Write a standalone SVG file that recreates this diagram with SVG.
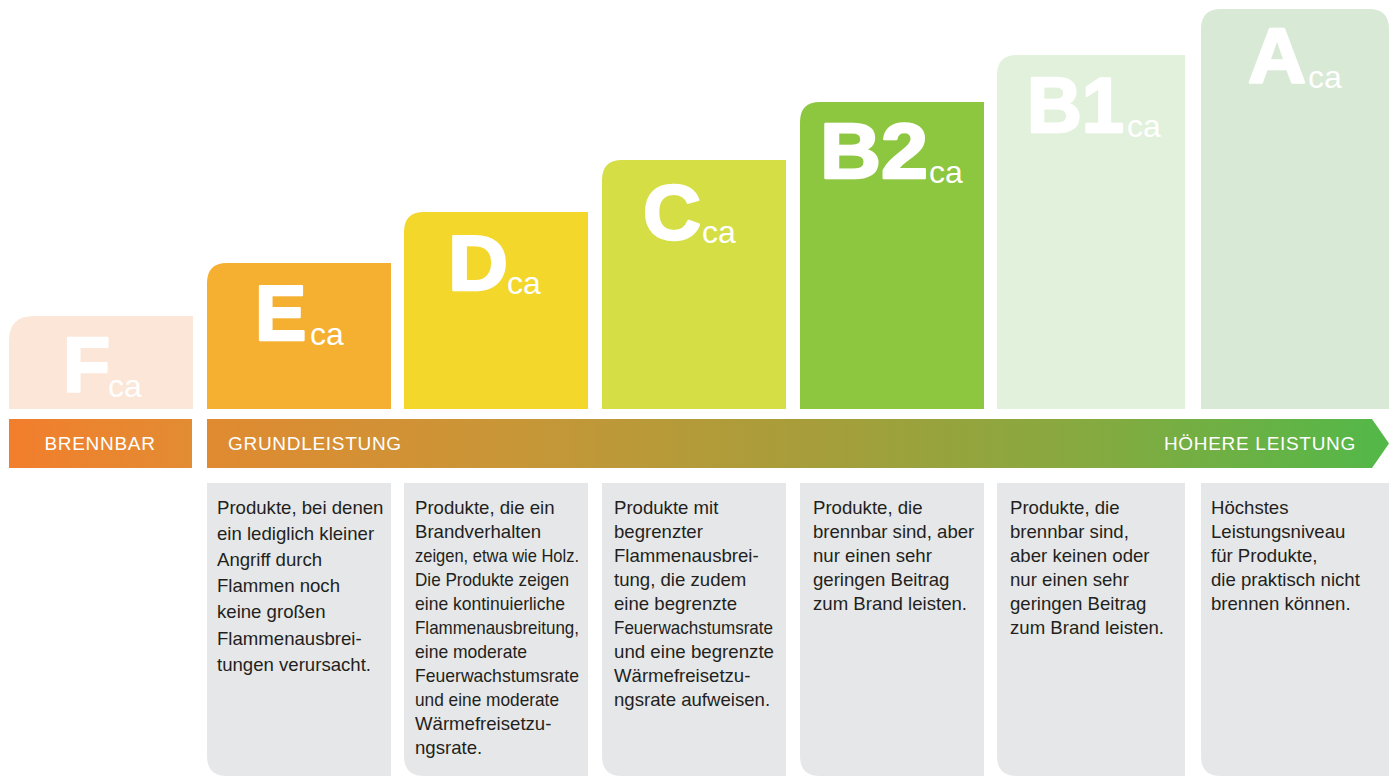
<svg xmlns="http://www.w3.org/2000/svg" width="1394" height="776" viewBox="0 0 1394 776">
<defs>
<linearGradient id="gBrenn" x1="9" y1="0" x2="192" y2="0" gradientUnits="userSpaceOnUse">
<stop offset="0" stop-color="#f27e2c"/><stop offset="1" stop-color="#e28c33"/>
</linearGradient>
<linearGradient id="gArrow" x1="207" y1="0" x2="1389" y2="0" gradientUnits="userSpaceOnUse">
<stop offset="0" stop-color="#e08a31"/>
<stop offset="0.25" stop-color="#c99637"/>
<stop offset="0.5" stop-color="#a89d3a"/>
<stop offset="0.75" stop-color="#85aa40"/>
<stop offset="1" stop-color="#52b849"/>
</linearGradient>
<style>
.big{font-family:"Liberation Sans",Arial,sans-serif;font-weight:bold;font-size:77px;fill:#fff;stroke:#fff;stroke-width:2.5;stroke-linejoin:round}
.sub{font-family:"Liberation Sans",Arial,sans-serif;font-size:32px;fill:#fff}
.lab{font-family:"Liberation Sans",Arial,sans-serif;font-size:19px;fill:#fff;letter-spacing:0.7px}
.desc{font-family:"Liberation Sans",Arial,sans-serif;font-size:18.6px;fill:#231f20}
.box{fill:#e6e7e8}
</style>
</defs>
<rect width="1394" height="776" fill="#fff"/>

<g id="bar-F">
<path d="M9,409 V341 Q9,316 34,316 H193 V409 Z" fill="#fce6d7"/>
<text class="big" x="63" y="392">F</text><text class="sub" x="108" y="397">ca</text>
</g>
<g id="bar-E">
<path d="M207,409 V283 Q207,263 227,263 H391 V409 Z" fill="#f5af31"/>
<text class="big" x="255" y="340">E</text><text class="sub" x="310" y="345">ca</text>
</g>
<g id="bar-D">
<path d="M404,409 V232 Q404,212 424,212 H588 V409 Z" fill="#f3d72b"/>
<text class="big" x="448" y="290" textLength="60" lengthAdjust="spacingAndGlyphs">D</text><text class="sub" x="507" y="294">ca</text>
</g>
<g id="bar-C">
<path d="M602,409 V180 Q602,160 622,160 H786 V409 Z" fill="#d5df45"/>
<text class="big" x="643" y="239" textLength="58" lengthAdjust="spacingAndGlyphs">C</text><text class="sub" x="702" y="243">ca</text>
</g>
<g id="bar-B2">
<path d="M800,409 V122 Q800,102 820,102 H984 V409 Z" fill="#8dc63f"/>
<text class="big" x="820" y="178" textLength="108" lengthAdjust="spacingAndGlyphs">B2</text><text class="sub" x="929" y="183">ca</text>
</g>
<g id="bar-B1">
<path d="M997,409 V75 Q997,55 1017,55 H1185 V409 Z" fill="#e2f1dc"/>
<text class="big" x="1027" y="132" textLength="97" lengthAdjust="spacingAndGlyphs">B1</text><text class="sub" x="1127" y="137">ca</text>
</g>
<g id="bar-A">
<path d="M1201,409 V29 Q1201,9 1221,9 H1369 Q1389,9 1389,29 V409 Z" fill="#d8e9d6"/>
<text class="big" x="1248" y="83" textLength="58" lengthAdjust="spacingAndGlyphs">A</text><text class="sub" x="1308" y="88">ca</text>
</g>

<g id="scale">
<rect x="9" y="419" width="183" height="49" fill="url(#gBrenn)"/>
<text class="lab" x="100" y="450" text-anchor="middle">BRENNBAR</text>
<polygon points="207,419 1372,419 1389,443.5 1372,468 207,468" fill="url(#gArrow)"/>
<text class="lab" x="228" y="450">GRUNDLEISTUNG</text>
<text class="lab" x="1356" y="450" text-anchor="end">HÖHERE LEISTUNG</text>
</g>

<g id="desc-E">
<path class="box" d="M207,483 H391 V776 H227 Q207,776 207,756 Z"/>
<text class="desc" x="217" y="514">Produkte, bei denen</text>
<text class="desc" x="217" y="540">ein lediglich kleiner</text>
<text class="desc" x="217" y="566">Angriff durch</text>
<text class="desc" x="217" y="592">Flammen noch</text>
<text class="desc" x="217" y="618">keine großen</text>
<text class="desc" x="217" y="645">Flammenausbrei-</text>
<text class="desc" x="217" y="671">tungen verursacht.</text>
</g>
<g id="desc-D">
<path class="box" d="M404,483 H588 V776 H424 Q404,776 404,756 Z"/>
<text class="desc" x="415" y="514">Produkte, die ein</text>
<text class="desc" x="415" y="538">Brandverhalten</text>
<text class="desc" x="415" y="562" textLength="164" lengthAdjust="spacingAndGlyphs">zeigen, etwa wie Holz.</text>
<text class="desc" x="415" y="586" textLength="154" lengthAdjust="spacingAndGlyphs">Die Produkte zeigen</text>
<text class="desc" x="415" y="610" textLength="150" lengthAdjust="spacingAndGlyphs">eine kontinuierliche</text>
<text class="desc" x="415" y="634" textLength="164" lengthAdjust="spacingAndGlyphs">Flammenausbreitung,</text>
<text class="desc" x="415" y="658" textLength="112" lengthAdjust="spacingAndGlyphs">eine moderate</text>
<text class="desc" x="415" y="682" textLength="164" lengthAdjust="spacingAndGlyphs">Feuerwachstumsrate</text>
<text class="desc" x="415" y="706" textLength="144" lengthAdjust="spacingAndGlyphs">und eine moderate</text>
<text class="desc" x="415" y="730">Wärmefreisetzu-</text>
<text class="desc" x="415" y="754">ngsrate.</text>
</g>
<g id="desc-C">
<path class="box" d="M602,483 H786 V776 H622 Q602,776 602,756 Z"/>
<text class="desc" x="614" y="514">Produkte mit</text>
<text class="desc" x="614" y="538">begrenzter</text>
<text class="desc" x="614" y="562">Flammenausbrei-</text>
<text class="desc" x="614" y="586">tung, die zudem</text>
<text class="desc" x="614" y="610">eine begrenzte</text>
<text class="desc" x="614" y="634" textLength="159" lengthAdjust="spacingAndGlyphs">Feuerwachstumsrate</text>
<text class="desc" x="614" y="658" textLength="160" lengthAdjust="spacingAndGlyphs">und eine begrenzte</text>
<text class="desc" x="614" y="682">Wärmefreisetzu-</text>
<text class="desc" x="614" y="706">ngsrate aufweisen.</text>
</g>
<g id="desc-B2">
<path class="box" d="M800,483 H984 V776 H820 Q800,776 800,756 Z"/>
<text class="desc" x="813" y="514">Produkte, die</text>
<text class="desc" x="813" y="538">brennbar sind, aber</text>
<text class="desc" x="813" y="562">nur einen sehr</text>
<text class="desc" x="813" y="586">geringen Beitrag</text>
<text class="desc" x="813" y="610">zum Brand leisten.</text>
</g>
<g id="desc-B1">
<path class="box" d="M997,483 H1185 V776 H1017 Q997,776 997,756 Z"/>
<text class="desc" x="1010" y="514">Produkte, die</text>
<text class="desc" x="1010" y="538">brennbar sind,</text>
<text class="desc" x="1010" y="562">aber keinen oder</text>
<text class="desc" x="1010" y="586">nur einen sehr</text>
<text class="desc" x="1010" y="610">geringen Beitrag</text>
<text class="desc" x="1010" y="634">zum Brand leisten.</text>
</g>
<g id="desc-A">
<path class="box" d="M1201,483 H1389 V776 H1221 Q1201,776 1201,756 Z"/>
<text class="desc" x="1211" y="514">Höchstes</text>
<text class="desc" x="1211" y="538">Leistungsniveau</text>
<text class="desc" x="1211" y="562">für Produkte,</text>
<text class="desc" x="1211" y="586">die praktisch nicht</text>
<text class="desc" x="1211" y="610">brennen können.</text>
</g>
</svg>
